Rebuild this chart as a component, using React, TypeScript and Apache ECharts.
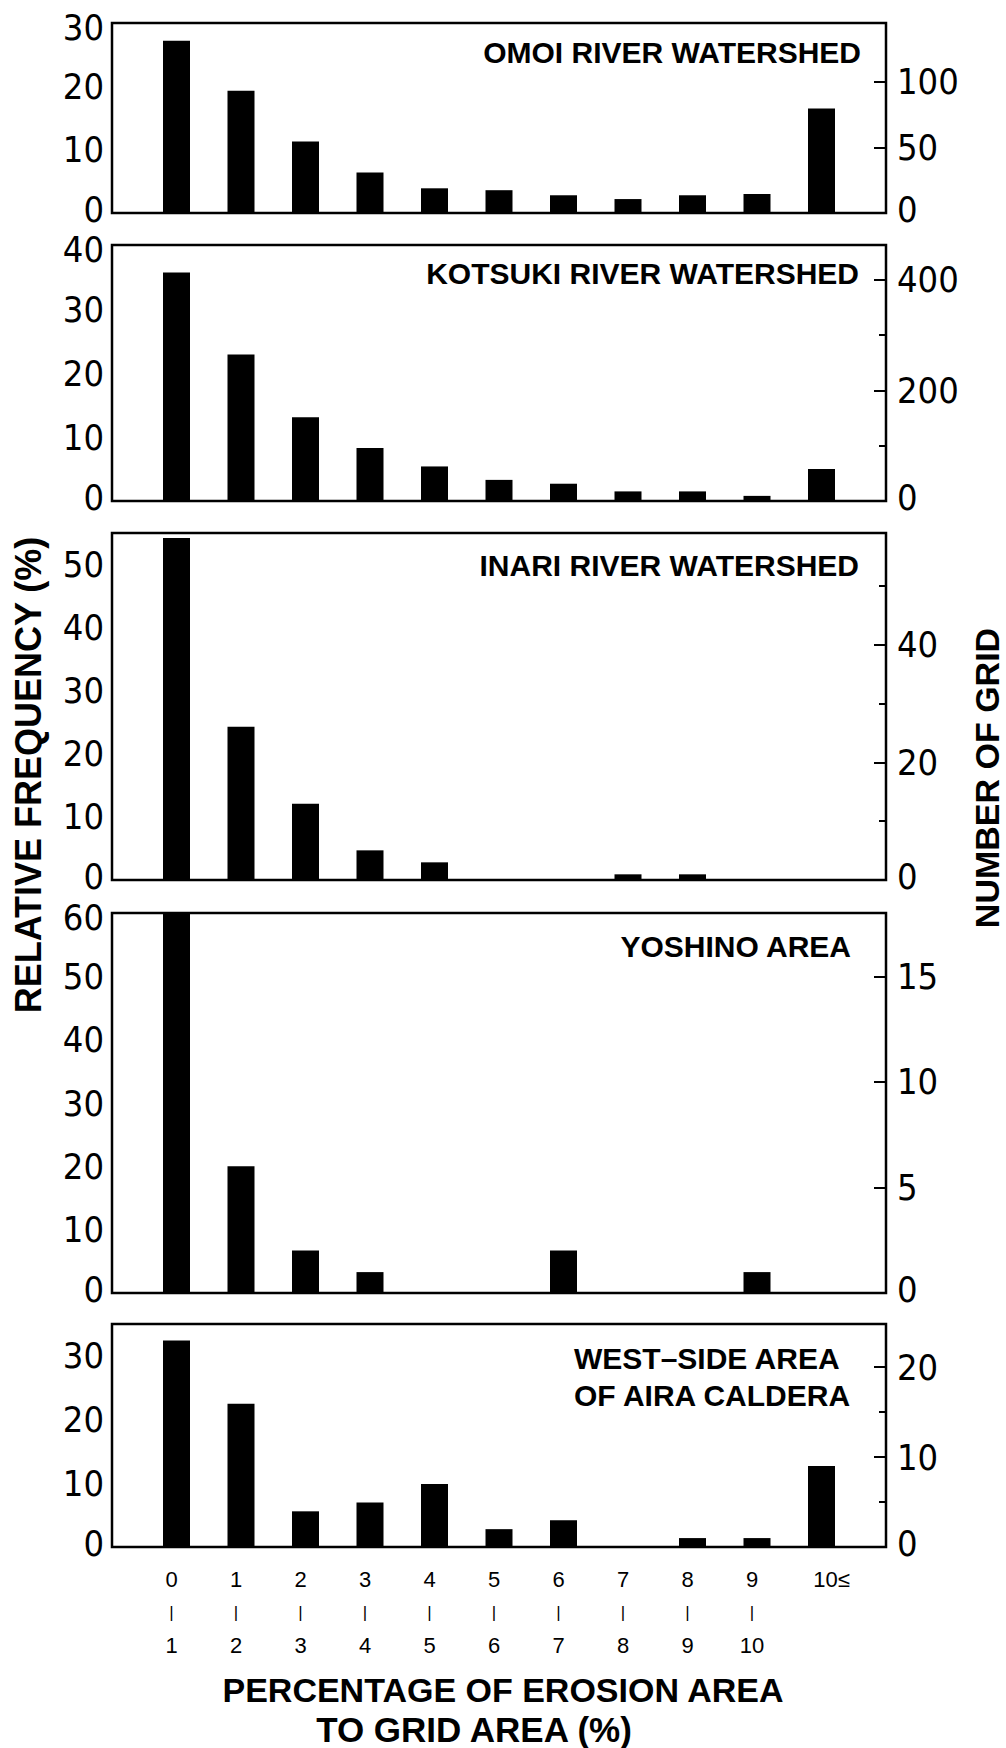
import React, { useEffect, useRef } from 'react';
import * as echarts from 'echarts';

// ---- data ----
const rowTop = ['0', '1', '2', '3', '4', '5', '6', '7', '8', '9', '10≤'];
const rowBottom = ['1', '2', '3', '4', '5', '6', '7', '8', '9', '10', ''];

const omoi = [27.2, 19.3, 11.3, 6.4, 3.9, 3.6, 2.8, 2.2, 2.8, 3.0, 16.5];
const kotsuki = [35.7, 22.9, 13.1, 8.3, 5.4, 3.3, 2.7, 1.5, 1.5, 0.8, 5.0];
const inari = [54.2, 24.3, 12.1, 4.7, 2.8, 0, 0, 0.9, 0.9, 0, 0];
const yoshino = [60, 20, 6.7, 3.3, 0, 0, 6.7, 0, 0, 3.3, 0];
const westAira = [32.4, 22.5, 5.6, 7.0, 9.9, 2.8, 4.2, 0, 1.4, 1.4, 12.7];

const panelTitles = [
  ['OMOI RIVER WATERSHED'],
  ['KOTSUKI RIVER WATERSHED'],
  ['INARI RIVER WATERSHED'],
  ['YOSHINO AREA'],
  ['WEST–SIDE AREA', 'OF AIRA CALDERA'],
];

const leftMax = [30, 40, 55, 60, 35];
const leftInterval = [10, 10, 10, 10, 10];
const rightMax = [145, 463, 59, 18, 24.8];
const rightInterval = [50, 200, 20, 5, 10];
const rightMinor = [false, true, true, false, true];

const leftTitle = 'RELATIVE FREQUENCY (%)';
const rightTitle = 'NUMBER OF GRID';
const xTitle1 = 'PERCENTAGE OF EROSION AREA';
const xTitle2 = 'TO GRID AREA (%)';

const seriesValues = [omoi, kotsuki, inari, yoshino, westAira];

// ---- layout ----
const W = 1006;
const H = 1748;
const GRID_LEFT = 112;
const GRID_WIDTH = 774;
const gridTops = [23, 245, 533, 913, 1324];
const gridBottoms = [213, 501, 880, 1293, 1547];
const titleRight = [861, 859, 859, 851, 850];
const titleY = [52, 273, 565, 946, 1358];

const NARROW = '"Liberation Sans Narrow", "DejaVu Sans Condensed", "Arial Narrow", sans-serif';
const SANS = '"Liberation Sans", Arial, Helvetica, sans-serif';

const tickFont = { fontSize: 36, fontFamily: NARROW, color: '#000' };

function makeFormatter(step: number, max: number) {
  return (v: number) => {
    if (Math.abs(v % step) > 1e-6) return '';
    if (v === 0) return `{lo|0}`;
    if (Math.abs(v - max) < 1e-6) return `{hi|${v}}`;
    return `{n|${v}}`;
  };
}

const tickRich = {
  n: { ...tickFont },
  lo: { ...tickFont, padding: [0, 0, 7, 0] },
  hi: { ...tickFont, padding: [9, 0, 0, 0] },
};

export default function App() {
  const ref = useRef<HTMLDivElement>(null);

  useEffect(() => {
    if (!ref.current) return;
    const chart = echarts.init(ref.current, undefined, { renderer: 'svg' });

    const grids: any[] = [];
    const xAxes: any[] = [];
    const yAxes: any[] = [];
    const series: any[] = [];
    const graphics: any[] = [];

    for (let p = 0; p < 5; p++) {
      grids.push({
        left: GRID_LEFT,
        width: GRID_WIDTH,
        top: gridTops[p],
        height: gridBottoms[p] - gridTops[p],
        show: true,
        borderColor: '#000',
        borderWidth: 2.5,
        backgroundColor: 'transparent',
        containLabel: false,
        outerBoundsMode: 'none',
      });
      const isBottom = p === 4;
      xAxes.push({
        type: 'value',
        gridIndex: p,
        min: -1,
        max: 11,
        interval: 1,
        show: isBottom,
        axisLine: { show: false },
        axisTick: { show: false },
        splitLine: { show: false },
        axisLabel: {
          show: isBottom,
          margin: 16,
          color: '#000',
          padding: [0, 10, 0, 0],
          formatter: (v: number) => {
            const i = Math.round(v);
            if (i < 0 || i > 10) return '';
            if (!rowBottom[i]) return `{c|${rowTop[i]}}`;
            return `{a|${rowTop[i]}}\n{b||}\n{a|${rowBottom[i]}}`;
          },
          rich: {
            a: { fontSize: 22, lineHeight: 33, fontFamily: SANS, color: '#000' },
            b: { fontSize: 17, lineHeight: 33, fontFamily: SANS, color: '#000' },
            c: { fontSize: 22, lineHeight: 33, fontFamily: SANS, color: '#000', padding: [0, 0, 0, 30] },
          },
        },
      });
      const li = leftInterval[p];
      yAxes.push({
        type: 'value',
        gridIndex: p,
        position: 'left',
        min: 0,
        max: leftMax[p],
        interval: li,
        axisLine: { show: false },
        splitLine: { show: false },
        axisTick: { show: true, inside: true, length: 12, lineStyle: { color: '#000', width: 2 } },
        minorTick: { show: true, splitNumber: 2, length: 7, lineStyle: { color: '#000', width: 2 } },
        axisLabel: {
          ...tickFont,
          margin: 8,
          formatter: makeFormatter(li, leftMax[p]),
          rich: tickRich,
        },
      });
      const ri = rightInterval[p];
      yAxes.push({
        type: 'value',
        gridIndex: p,
        position: 'right',
        min: 0,
        max: rightMax[p],
        interval: ri,
        axisLine: { show: false },
        splitLine: { show: false },
        axisTick: { show: true, inside: true, length: 12, lineStyle: { color: '#000', width: 2 } },
        minorTick: { show: rightMinor[p], splitNumber: 2, length: 7, lineStyle: { color: '#000', width: 2 } },
        axisLabel: {
          ...tickFont,
          margin: 11,
          formatter: makeFormatter(ri, rightMax[p]),
          rich: tickRich,
        },
      });
      series.push({
        type: 'bar',
        xAxisIndex: p,
        yAxisIndex: p * 2,
        barWidth: 27,
        itemStyle: { color: '#000' },
        data: seriesValues[p].map((v, j) => [j, v]),
      });

      const lines = panelTitles[p];
      if (lines.length === 1) {
        graphics.push({
          type: 'text',
          x: titleRight[p],
          y: titleY[p],
          style: {
            text: lines[0],
            align: 'right',
            verticalAlign: 'middle',
            fontSize: 30,
            fontWeight: 'bold',
            fontFamily: SANS,
            fill: '#000',
          },
        });
      } else {
        lines.forEach((t, k) => {
          graphics.push({
            type: 'text',
            x: 574,
            y: titleY[p] + k * 37,
            style: {
              text: t,
              align: 'left',
              verticalAlign: 'middle',
              fontSize: 30,
              fontWeight: 'bold',
              fontFamily: SANS,
              fill: '#000',
            },
          });
        });
      }
    }

    graphics.push({
      type: 'text',
      x: 28,
      y: 775,
      rotation: Math.PI / 2,
      style: {
        text: leftTitle,
        align: 'center',
        verticalAlign: 'middle',
        fontSize: 36,
        fontWeight: 'bold',
        fontFamily: SANS,
        fill: '#000',
      },
    });
    graphics.push({
      type: 'text',
      x: 987,
      y: 778,
      rotation: Math.PI / 2,
      style: {
        text: rightTitle,
        align: 'center',
        verticalAlign: 'middle',
        fontSize: 34,
        fontWeight: 'bold',
        fontFamily: SANS,
        fill: '#000',
      },
    });
    graphics.push({
      type: 'text',
      x: 503,
      y: 1690,
      style: {
        text: xTitle1,
        align: 'center',
        verticalAlign: 'middle',
        fontSize: 34,
        fontWeight: 'bold',
        fontFamily: SANS,
        fill: '#000',
      },
    });
    graphics.push({
      type: 'text',
      x: 474,
      y: 1729,
      style: {
        text: xTitle2,
        align: 'center',
        verticalAlign: 'middle',
        fontSize: 35,
        fontWeight: 'bold',
        fontFamily: SANS,
        fill: '#000',
      },
    });

    chart.setOption({
      animation: false,
      backgroundColor: '#fff',
      grid: grids,
      xAxis: xAxes,
      yAxis: yAxes,
      series,
      graphic: graphics,
    });

    return () => {
      chart.dispose();
    };
  }, []);

  return (
    <div
      ref={ref}
      style={{ position: 'absolute', left: 0, top: 0, width: W, height: H, background: '#fff' }}
    />
  );
}
